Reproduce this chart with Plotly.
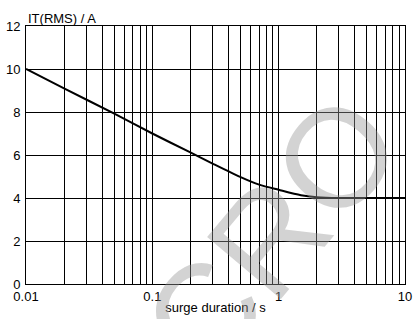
import plotly.graph_objects as go

# data
duration_s = [0.01, 0.02, 0.05, 0.1, 0.2, 0.3, 0.5, 0.7, 1.0, 1.5, 2.0, 3.0, 5.0, 10.0]
it_rms_a = [10.0, 9.1, 7.92, 7.0, 6.12, 5.6, 4.97, 4.62, 4.38, 4.13, 4.04, 4.0, 4.0, 4.0]

x_tick_vals = [0.01, 0.1, 1, 10]
x_tick_text = ["0.01", "0.1", "1", "10"]
y_tick_vals = [0, 2, 4, 6, 8, 10, 12]

fig = go.Figure()
fig.add_trace(go.Scatter(
    x=duration_s, y=it_rms_a, mode="lines",
    line=dict(color="black", width=2, shape="spline", smoothing=0.8),
    showlegend=False, hoverinfo="skip",
))

font = dict(family="Liberation Sans, Arial, sans-serif", size=13, color="black")

fig.update_layout(
    width=414, height=319,
    margin=dict(l=26, r=9, t=26, b=35),
    paper_bgcolor="white", plot_bgcolor="white",
    font=font,
    xaxis=dict(
        type="log", range=[-2, 1], automargin=False,
        tickmode="array", tickvals=x_tick_vals, ticktext=x_tick_text,
        showgrid=True, gridcolor="black", gridwidth=1,
        minor=dict(dtick="D1", showgrid=True, gridcolor="black", gridwidth=1),
        showline=True, linecolor="black", linewidth=1, mirror=True,
        ticks="", zeroline=False, ticklabelstandoff=0,
        title=dict(text="surge duration / s", font=font, standoff=0),
    ),
    yaxis=dict(
        range=[0, 12], tickmode="array", tickvals=y_tick_vals, automargin=False,
        showgrid=True, gridcolor="black", gridwidth=1,
        showline=True, linecolor="black", linewidth=1, mirror=True,
        ticks="", zeroline=False, ticklabelstandoff=2,
    ),
    annotations=[
        dict(text="IT(RMS) / A", xref="paper", yref="paper", x=0, y=1,
             xanchor="left", yanchor="bottom", showarrow=False, font=font, yshift=-2),
        dict(text="MICRO", xref="paper", yref="paper", x=0.515, y=-0.04,
             xanchor="center", yanchor="middle",
             showarrow=False, textangle=-50,
             font=dict(family="Liberation Sans, Arial, sans-serif", size=140,
                       color="rgba(150,150,150,0.42)")),
    ],
)

fig.write_html("out.html", config={"displayModeBar": False},
               post_script="document.body.style.margin='0';")
